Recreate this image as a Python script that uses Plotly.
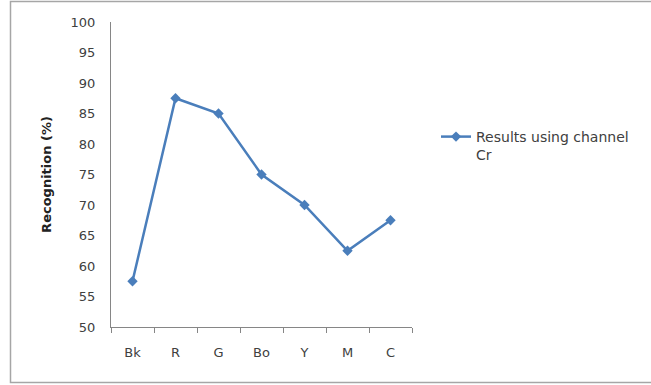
import plotly.graph_objects as go

# Recognition rate per colour class
categories = ["Bk", "R", "G", "Bo", "Y", "M", "C"]
recognition = [57.5, 87.5, 85, 75, 70, 62.5, 67.5]
series_name = "Results using channel<br>Cr"

W, H = 651, 385
L, R, T, B = 111, 239, 22, 58
pw, ph = W - L - R, H - T - B

def px_x(x):
    return (x - L) / pw

def px_y(y):
    return (H - B - y) / ph

line_color = "#4a7ebb"
axis_color = "#868686"
text_color = "#404040"
font_family = "DejaVu Sans, Liberation Sans, sans-serif"

fig = go.Figure()
fig.add_trace(go.Scatter(
    x=categories,
    y=recognition,
    mode="lines+markers",
    name=series_name,
    line=dict(color=line_color, width=2.5),
    marker=dict(symbol="diamond", size=8, color=line_color),
))

fig.update_layout(
    width=W,
    height=H,
    margin=dict(l=L, r=R, t=T, b=B, autoexpand=False),
    paper_bgcolor="white",
    plot_bgcolor="white",
    font=dict(family=font_family, size=13, color=text_color),
    showlegend=True,
    legend=dict(
        x=px_x(436),
        y=px_y(121),
        xanchor="left",
        yanchor="top",
        xref="paper",
        yref="paper",
        valign="top",
        bgcolor="rgba(0,0,0,0)",
        font=dict(size=14, color=text_color),
        itemwidth=30,
    ),
    xaxis=dict(
        type="category",
        range=[-0.5, 6.5],
        showline=True,
        linecolor=axis_color,
        linewidth=1,
        showgrid=False,
        zeroline=False,
        ticks="outside",
        tickson="boundaries",
        ticklen=5,
        tickcolor=axis_color,
        ticklabelstandoff=13,
        tickfont=dict(size=13, color=text_color),
    ),
    yaxis=dict(
        range=[50, 100],
        dtick=5,
        showline=True,
        linecolor=axis_color,
        linewidth=1,
        showgrid=False,
        zeroline=False,
        ticks="",
        ticklabelstandoff=12,
        tickfont=dict(size=13, color=text_color),
        title=dict(
            text="<b>Recognition (%)</b>",
            font=dict(size=13, color="#222222"),
            standoff=16,
        ),
    ),
    shapes=[
        dict(
            type="rect",
            xref="paper",
            yref="paper",
            x0=px_x(10.5),
            x1=px_x(660),
            y0=px_y(382.5),
            y1=px_y(1.5),
            line=dict(color="#a6a6a6", width=1.5),
            fillcolor="rgba(0,0,0,0)",
            layer="below",
        )
    ],
)

fig.write_html("out.html")
